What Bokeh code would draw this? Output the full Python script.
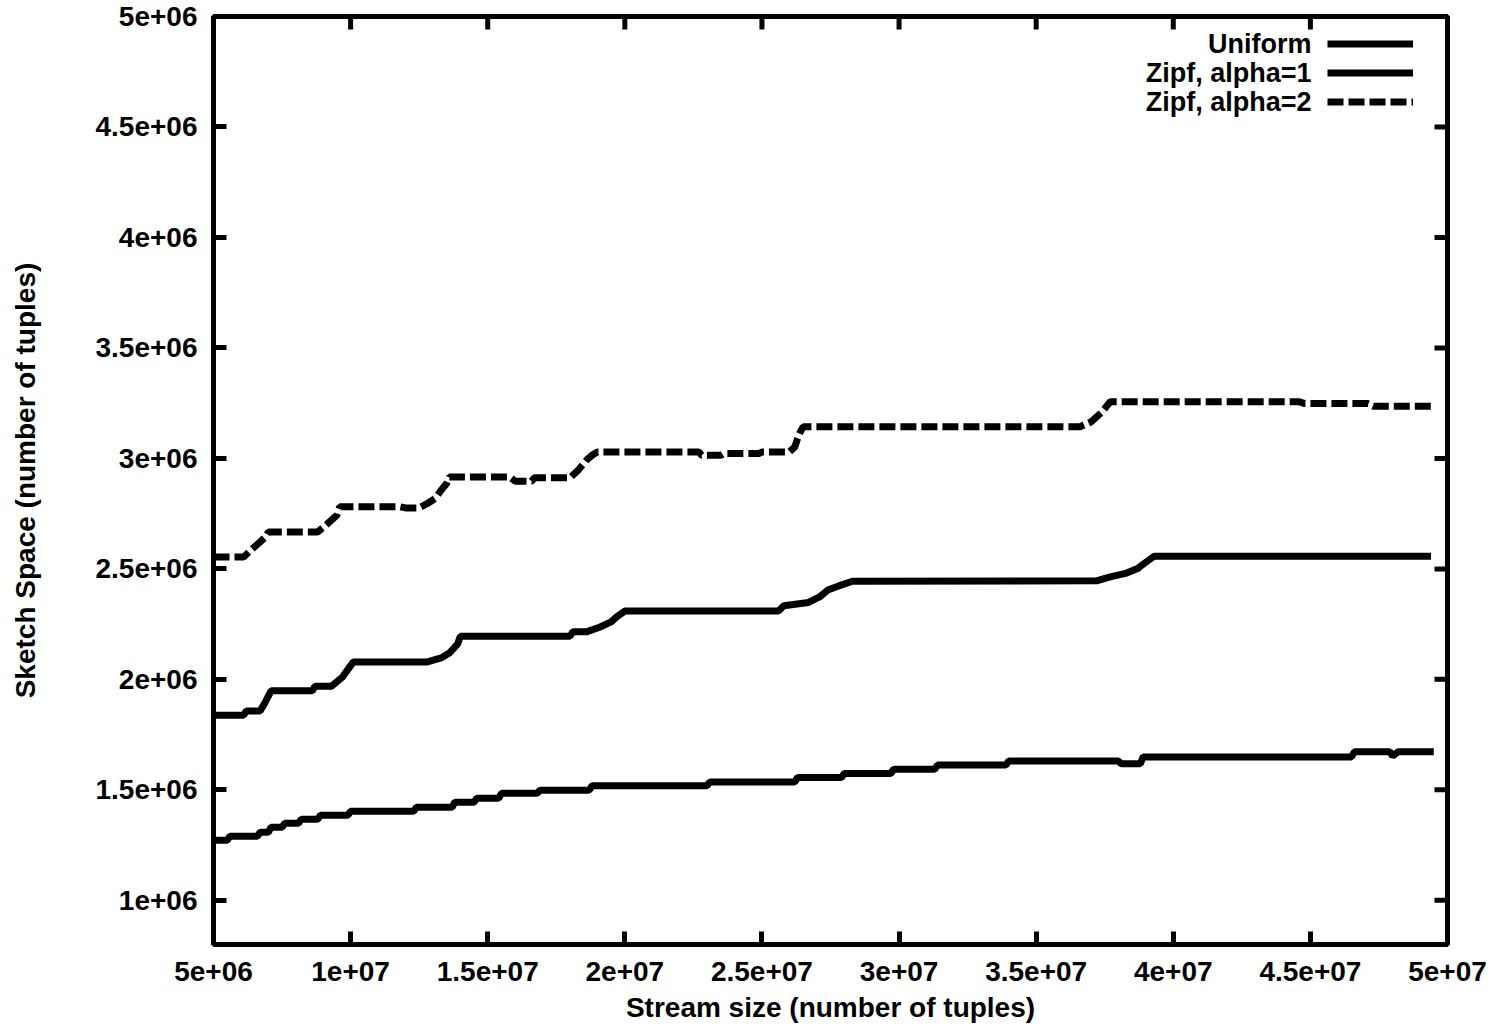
import numpy as np
from bokeh.plotting import figure
from bokeh.models import FixedTicker, Legend, LegendItem, Label, Range1d
from bokeh.embed import file_html
from bokeh.resources import INLINE

# ---- data (millions) ----
uniform_x = [5.0, 5.5, 5.6, 6.6, 6.7, 7.0, 7.1, 7.5, 7.6, 8.1, 8.2, 8.8, 8.9, 9.9, 10.0, 12.3, 12.4,
             13.7, 13.8, 14.5, 14.6, 15.4, 15.5, 16.8, 16.9, 18.7, 18.8, 23.0, 23.1, 26.2, 26.3, 27.9,
             28.0, 29.7, 29.8, 31.3, 31.4, 33.9, 34.0, 38.0, 38.1, 38.8, 38.9, 46.5, 46.6, 47.9, 48.0,
             48.2, 49.5]
uniform_y = [1.272, 1.272, 1.290, 1.290, 1.308, 1.308, 1.331, 1.331, 1.349, 1.349, 1.367, 1.367, 1.385,
             1.385, 1.403, 1.403, 1.421, 1.421, 1.444, 1.444, 1.462, 1.462, 1.484, 1.484, 1.498, 1.498,
             1.518, 1.518, 1.536, 1.536, 1.556, 1.556, 1.574, 1.574, 1.593, 1.593, 1.612, 1.612, 1.630,
             1.630, 1.618, 1.618, 1.649, 1.649, 1.672, 1.672, 1.653, 1.672, 1.672]

zipf1_x = [5.0, 6.1, 6.2, 6.7, 6.9, 7.1, 8.6, 8.7, 9.3, 9.7, 10.1, 12.8, 13.3, 13.6, 13.9, 14.0, 18.0,
           18.1, 18.6, 19.1, 19.5, 19.7, 20.0, 25.6, 25.8, 26.7, 27.1, 27.4, 27.8, 28.3, 37.2, 37.7,
           38.3, 38.7, 38.9, 39.1, 39.3, 49.4]
zipf1_y = [1.838, 1.838, 1.857, 1.857, 1.900, 1.948, 1.948, 1.969, 1.969, 2.010, 2.079, 2.079, 2.097,
           2.119, 2.159, 2.195, 2.195, 2.215, 2.215, 2.237, 2.260, 2.283, 2.309, 2.309, 2.333, 2.348,
           2.373, 2.404, 2.423, 2.444, 2.446, 2.464, 2.481, 2.502, 2.521, 2.539, 2.557, 2.557]

zipf2_x = [5.0, 6.1, 6.3, 6.5, 6.7, 6.9, 7.0, 8.8, 9.1, 9.5, 9.6, 11.8, 12.0, 12.5, 12.8, 13.1, 13.3,
           13.5, 13.6, 15.8, 16.0, 16.6, 16.7, 18.0, 18.3, 18.6, 18.8, 19.0, 22.7, 22.8, 23.5, 23.6,
           24.9, 25.0, 26.0, 26.2, 26.3, 26.4, 26.5, 36.6, 37.0, 37.4, 37.6, 37.7, 44.6, 44.8, 47.1,
           47.3, 49.4]
zipf2_y = [2.554, 2.554, 2.577, 2.600, 2.622, 2.645, 2.667, 2.667, 2.698, 2.743, 2.781, 2.781, 2.776,
           2.776, 2.796, 2.820, 2.856, 2.886, 2.916, 2.916, 2.897, 2.897, 2.912, 2.912, 2.947, 2.992,
           3.014, 3.029, 3.029, 3.014, 3.014, 3.022, 3.022, 3.029, 3.029, 3.052, 3.090, 3.120, 3.143,
           3.143, 3.165, 3.210, 3.241, 3.256, 3.256, 3.248, 3.248, 3.236, 3.236]

series_names = ["Uniform", "Zipf, alpha=1", "Zipf, alpha=2"]

x_ticks = [5e6, 1e7, 1.5e7, 2e7, 2.5e7, 3e7, 3.5e7, 4e7, 4.5e7, 5e7]
x_tick_labels = ["5e+06", "1e+07", "1.5e+07", "2e+07", "2.5e+07", "3e+07", "3.5e+07", "4e+07",
                 "4.5e+07", "5e+07"]
y_ticks = [1e6, 1.5e6, 2e6, 2.5e6, 3e6, 3.5e6, 4e6, 4.5e6, 5e6]
y_tick_labels = ["1e+06", "1.5e+06", "2e+06", "2.5e+06", "3e+06", "3.5e+06", "4e+06", "4.5e+06",
                 "5e+06"]

x_label = "Stream size (number of tuples)"
y_label = "Sketch Space (number of tuples)"

FONT = "Liberation Sans"
M = 1e6
X0, X1 = 5e6, 5e7
Y0, Y1 = 0.8e6, 5e6

p = figure(width=1497, height=1031, output_backend="svg", toolbar_location=None,
           x_range=Range1d(X0, X1), y_range=Range1d(Y0, Y1),
           min_border_left=213, min_border_right=50, min_border_top=16, min_border_bottom=87)

p.xgrid.visible = False
p.ygrid.visible = False
p.outline_line_color = "black"
p.outline_line_width = 5
p.outline_line_alpha = 1.0
p.background_fill_color = "white"
p.border_fill_color = "white"

lw = 7
r_u = p.line(np.array(uniform_x) * M, np.array(uniform_y) * M, line_color="black", line_width=lw)
r_1 = p.line(np.array(zipf1_x) * M, np.array(zipf1_y) * M, line_color="black", line_width=lw)
r_2 = p.line(np.array(zipf2_x) * M, np.array(zipf2_y) * M, line_color="black", line_width=lw,
             line_dash="16 5")

# mirrored inward ticks on top and right edges (clipped to frame -> half-length inside)
p.scatter(x=x_ticks, y=[Y1] * len(x_ticks), marker="dash", size=26, angle=np.pi / 2,
          line_color="black", line_width=5)
p.scatter(x=[X1] * len(y_ticks), y=y_ticks, marker="dash", size=26,
          line_color="black", line_width=5)


def style_axis(ax, ticks, labels):
    ax.ticker = FixedTicker(ticks=ticks)
    ax.major_label_overrides = {t: l for t, l in zip(ticks, labels)}
    ax.major_tick_in = 13
    ax.major_tick_out = 0
    ax.minor_tick_in = 0
    ax.minor_tick_out = 0
    ax.major_tick_line_width = 5
    ax.major_tick_line_color = "black"
    ax.axis_line_color = None
    ax.major_label_text_font = FONT
    ax.major_label_text_font_style = "bold"
    ax.major_label_text_font_size = "28px"
    ax.major_label_text_color = "black"
    ax.axis_label_text_font = FONT
    ax.axis_label_text_font_style = "bold"
    ax.axis_label_text_font_size = "28px"
    ax.axis_label_text_color = "black"


xa = p.xaxis[0]
ya = p.yaxis[0]
style_axis(xa, x_ticks, x_tick_labels)
style_axis(ya, y_ticks, y_tick_labels)
xa.major_label_standoff = 17
ya.major_label_standoff = 16
xa.axis_label = x_label
ya.axis_label = y_label
xa.axis_label_standoff = 8
ya.axis_label_standoff = 52

# legend: samples at right, text right-aligned to their left (gnuplot style)
legend = Legend(items=[LegendItem(label=" ", renderers=[r]) for r in (r_u, r_1, r_2)],
                location=(1114, 828), padding=0, margin=0, spacing=0, label_standoff=0,
                label_width=0, label_height=29, glyph_width=86, glyph_height=29,
                border_line_color=None, background_fill_alpha=0,
                label_text_font_size="1px")
p.add_layout(legend)

for i, name in enumerate(series_names):
    p.add_layout(Label(x=X1, y=Y1, x_offset=-136, y_offset=-27 - 29 * i, text=name,
                       text_align="right", text_baseline="middle", text_font=FONT,
                       text_font_style="bold", text_font_size="27px", text_color="black"))

open("out.html", "w").write(file_html(p, INLINE))
